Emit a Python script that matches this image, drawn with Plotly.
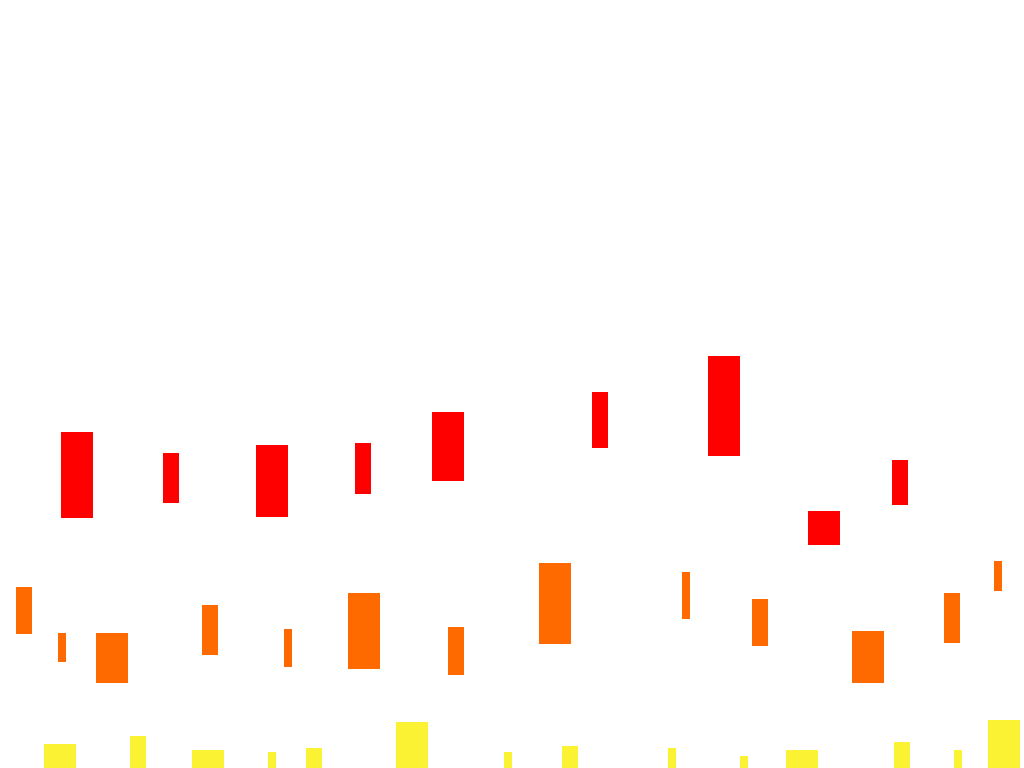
import plotly.graph_objects as go

# red series: centre, width, bottom, top (chart units, y grows upward)
red_x = [77, 171, 272, 363, 448, 600, 724, 824, 900]
red_w = [32, 16, 32, 16, 32, 16, 32, 32, 16]
red_low = [250, 265, 251, 274, 287, 320, 312, 223, 263]
red_high = [336, 315, 323, 325, 356, 376, 412, 257, 308]

# orange series
orange_x = [24, 62, 112, 210, 288, 364, 456, 555, 686, 760, 868, 952, 998]
orange_w = [16, 8, 32, 16, 8, 32, 16, 32, 8, 16, 32, 16, 8]
orange_low = [134, 106, 85, 113, 101, 99, 93, 124, 149, 122, 85, 125, 177]
orange_high = [181, 135, 135, 163, 139, 175, 141, 205, 196, 169, 137, 175, 207]

# yellow series (all start on the bottom edge)
yellow_x = [60, 138, 208, 272, 314, 412, 508, 570, 672, 744, 802, 902, 958, 1004]
yellow_w = [32, 16, 32, 8, 16, 32, 8, 16, 8, 8, 32, 16, 8, 32]
yellow_low = [0] * 14
yellow_high = [24, 32, 18, 16, 20, 46, 16, 22, 20, 12, 18, 26, 18, 48]

series = [
    ("red", "#FF0000", red_x, red_w, red_low, red_high),
    ("orange", "#FF6A00", orange_x, orange_w, orange_low, orange_high),
    ("yellow", "#FAF232", yellow_x, yellow_w, yellow_low, yellow_high),
]

fig = go.Figure()
for name, color, xs, ws, lows, highs in series:
    fig.add_trace(go.Bar(
        x=xs,
        y=[h - l for h, l in zip(highs, lows)],
        base=lows,
        width=ws,
        name=name,
        marker=dict(color=color, line=dict(width=0)),
        showlegend=False,
    ))

fig.update_layout(
    barmode="overlay",
    width=1024,
    height=768,
    margin=dict(l=0, r=0, t=0, b=0),
    plot_bgcolor="white",
    paper_bgcolor="white",
    xaxis=dict(range=[0, 1024], visible=False, fixedrange=True),
    yaxis=dict(range=[0, 768], visible=False, fixedrange=True),
)

# page margin off so the figure sits in the corner, no modebar
fig.write_html(
    "out.html",
    config={"displayModeBar": False},
    post_script="document.body.style.margin='0';document.body.style.overflow='hidden';",
)
